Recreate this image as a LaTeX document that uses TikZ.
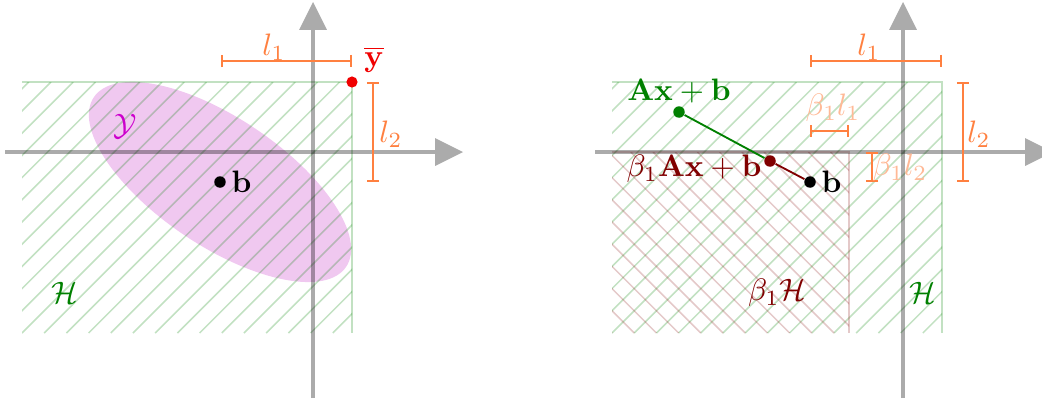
\documentclass[tikz,border=0pt]{standalone}
\usetikzlibrary{arrows.meta}
\definecolor{hgreen}{rgb}{0,0.5,0}
\definecolor{dred}{rgb}{0.5,0,0}
\definecolor{ellfill}{RGB}{240,200,240}
\definecolor{ymag}{RGB}{204,0,204}
\definecolor{myorange}{RGB}{255,128,64}
\definecolor{ybred}{RGB}{240,0,0}
\tikzset{
  axisline/.style={draw=black, opacity=0.33, line width=1pt, -{Triangle[length=9pt,width=9pt,line width=0pt]}},
  hatchG/.style={draw=hgreen, opacity=0.24, line width=0.5pt},
  hatchR/.style={draw=dred, opacity=0.21, line width=0.5pt},
  edgeG/.style={draw=hgreen, opacity=0.24, line width=0.6pt},
  edgeR/.style={draw=dred, opacity=0.21, line width=0.6pt},
  bracket/.style={draw=myorange, line width=0.6pt, {Bar[width=4pt]}-{Bar[width=4pt]}},
  dot/.style={circle, inner sep=0pt, minimum size=3.7pt},
  conn/.style={line width=0.6pt},
  lbl/.style={inner sep=0pt}
}
\begin{document}
\begin{tikzpicture}[x=0.3226pt, y=-0.3226pt]
\useasboundingbox (0,0) rectangle (1042,398);
\clip (0,0) rectangle (1042,398);

% ---------------- Left panel ----------------
\coordinate (bL) at (220,182);
\fill[ellfill, rotate around={-33.9:(bL)}] (bL) ellipse [x radius=152, y radius=64];
\begin{scope}
  \clip (22,82) rectangle (352,333);
  \foreach \k in {0,...,26} {
    \pgfmathsetmacro\c{110.8+22.2*\k}
    \draw[hatchG] (\c-333,333) -- (\c-82,82);
  }
\end{scope}
\draw[edgeG] (22,82) -- (352,82) -- (352,333);

\coordinate (axLx0) at (5,152);
\coordinate (axLx1) at (463,152);
\coordinate (axLy0) at (313,398);
\coordinate (axLy1) at (313,2);
\draw[axisline] (axLx0) -- (axLx1);
\draw[axisline] (axLy0) -- (axLy1);

\coordinate (l1La) at (221,61);
\coordinate (l1Lb) at (352,61);
\draw[bracket] (l1La) -- (l1Lb);
\node[lbl, text=myorange] (l1L) at (274,47) {$l_1$};
\coordinate (l2La) at (373,82);
\coordinate (l2Lb) at (373,182);
\draw[bracket] (l2La) -- (l2Lb);
\node[lbl, text=myorange] (l2L) at (391,134) {$l_2$};

\node[dot, fill=ybred, minimum size=3.6pt] (yb) at (352,82) {};
\node[lbl, text=ybred] (ybl) at (374,60) {$\overline{\mathbf{y}}$};
\node[dot, fill=black] (bLdot) at (bL) {};
\node[anchor=west, inner sep=1.5pt] (bLl) at (bLdot.east) {$\mathbf{b}$};
\node[lbl, text=ymag] (Yl) at (125,126) {$\mathcal{Y}$};
\node[lbl, text=hgreen] (HL) at (65,293) {$\mathcal{H}$};

% ---------------- Right panel ----------------
\begin{scope}
  \clip (612,82) rectangle (942,333);
  \foreach \k in {0,...,26} {
    \pgfmathsetmacro\c{700.8+22.2*\k}
    \draw[hatchG] (\c-333,333) -- (\c-82,82);
  }
\end{scope}
\begin{scope}
  \clip (612,152) rectangle (849,333);
  \foreach \k in {-1,...,20} {
    \pgfmathsetmacro\d{279+22.2*\k}
    \draw[hatchR] (\d+152,152) -- (\d+333,333);
  }
\end{scope}
\draw[edgeG] (612,82) -- (942,82) -- (942,333);
\draw[edgeR] (612,152) -- (849,152) -- (849,333);

\coordinate (axRx0) at (595,152);
\coordinate (axRx1) at (1053,152);
\coordinate (axRy0) at (903,398);
\coordinate (axRy1) at (903,2);
\draw[axisline] (axRx0) -- (axRx1);
\draw[axisline] (axRy0) -- (axRy1);

\coordinate (l1Ra) at (810,61);
\coordinate (l1Rb) at (942,61);
\draw[bracket] (l1Ra) -- (l1Rb);
\node[lbl, text=myorange] (l1R) at (869,47) {$l_1$};
\coordinate (l2Ra) at (963,82);
\coordinate (l2Rb) at (963,182);
\draw[bracket] (l2Ra) -- (l2Rb);
\node[lbl, text=myorange] (l2R) at (979,134) {$l_2$};
\coordinate (bl1a) at (810,131);
\coordinate (bl1b) at (849,131);
\draw[bracket] (bl1a) -- (bl1b);
\node[lbl, text=myorange!55] (bl1) at (833,108) {$\beta_1 l_1$};
\coordinate (bl2a) at (872,152);
\coordinate (bl2b) at (872,182);
\draw[bracket] (bl2a) -- (bl2b);
\node[lbl, text=myorange!55] (bl2) at (900,168) {$\beta_1 l_2$};

\node[dot, fill=hgreen] (Axb) at (679,112) {};
\node[dot, fill=dred] (bAxb) at (770,161) {};
\node[dot, fill=black] (bR) at (810,182) {};
\draw[conn, hgreen] (Axb) -- (bAxb);
\draw[conn, dred] (bAxb) -- (bR);
\node[anchor=west, inner sep=1.5pt] (bRl) at (bR.east) {$\mathbf{b}$};
\node[lbl, text=hgreen] (Axbl) at (679,91) {$\mathbf{Ax}+\mathbf{b}$};
\node[lbl, text=dred] (bAxbl) at (694,169) {$\beta_1\mathbf{Ax}+\mathbf{b}$};
\node[lbl, text=hgreen] (HR) at (923,293) {$\mathcal{H}$};
\node[lbl, text=dred] (bHR) at (777,293) {$\beta_1\mathcal{H}$};
\end{tikzpicture}
\end{document}
